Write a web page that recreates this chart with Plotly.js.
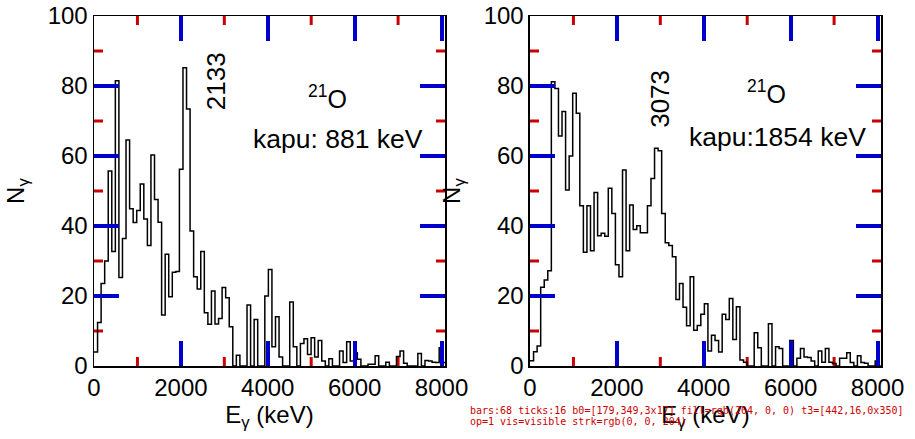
<!DOCTYPE html>
<html><head><meta charset="utf-8">
<script src="https://cdn.plot.ly/plotly-3.0.1.min.js"></script>
<style>html,body{margin:0;padding:0;background:#fff;}#chart{width:915px;height:439px;}#dbg{position:absolute;left:470px;top:405px;width:440px;font:10px monospace;color:#c00;white-space:pre-wrap;}</style>
</head><body><div id="chart"></div><div id="dbg"></div>
<script>
const BIN_KEV = 81.92;
const gate881 = [4,12.4,23.6,30,55.7,32.7,81.5,25.3,36.4,64.6,
  44.9,41,44.4,52,42,34.4,60.3,47.6,41.1,14.6,
  31.9,19.8,26.8,27,56.2,85.2,73.4,38.6,25.5,22,
  32.7,15.2,11.9,21.4,12,13.6,22.4,19.5,11.2,0,
  3.1,0,0,17.4,0,13.3,0,0,20,27.6,
  5.5,14.1,2.6,0,0,18.3,5.5,0,6.4,7.8,
  3.3,8.1,2.6,7.3,1.4,0,2.1,0,0,4.3,
  1,6.9,1.4,3.8,1.9,0,0,0.5,0.5,2.9,
  0,0,1.1,0,0,2.7,4.3,0.8,0,0,
  0,3.6,0,1.6,1.4,1.1,1,5.2,1,0];
const gate1854 = [1.5,4.1,5.7,22.5,24.6,27.2,81.2,79.3,65.7,72.7,
  50.3,60,77.9,72.2,45.8,32.5,45.8,32.9,49.6,37.2,
  37.9,37.1,50.8,43.6,28.9,25.5,56,32.9,46,39,
  40.1,38.1,38.1,45.8,53.6,62.2,61.5,43.6,35.2,34.4,
  31.2,19,23.6,16.8,11.5,25.5,10.2,11.6,14.8,17.8,
  4.3,8.8,7.3,4,14.8,13.3,19.3,7.6,16.9,1.7,
  1.1,0,0,9.5,5.2,0,0,12.1,0,5.5,
  5,0,0,7.3,0,2.2,5,2.6,2.4,1.4,
  0,4.3,1.1,5,1.1,0.7,0,2.2,2.2,3.8,
  1,0,2.9,1,0.8,0,0,1.4,0,0];
const xTickVals = [0,2000,4000,6000,8000];
const xMinorVals = [1000,3000,5000,7000];
const yTickVals = [0,20,40,60,80,100];
const yMinorVals = [10,30,50,70,90];
const peakLabels = ["2133","3073"];
const nucleus = "<sup>21</sup>O";
const gateLabels = ["kapu: 881 keV","kapu:1854 keV"];

const XR = [0,8080], YR = [0,100];
const W = 915, H = 439, M = {l:94,r:34,t:16,b:73};
const XDOM = [[0,0.446],[0.554,1]];
const MAJOR_PX = 17, MINOR_PX = 9;

function stepTrace(vals, xa, ya){
  const xs = vals.map((v,i)=>i*BIN_KEV); xs.push(vals.length*BIN_KEV);
  const ys = vals.slice(); ys.push(vals[vals.length-1]);
  return {x:xs,y:ys,xaxis:xa,yaxis:ya,type:'scatter',mode:'lines',
    line:{shape:'hv',color:'#000',width:1.5},hoverinfo:'skip',showlegend:false};
}
// tick marks as thin bars (filled rectangles) through the axes' own scales
function tickBars(xa, ya, dom){
  const plotW = (W-M.l-M.r)*(dom[1]-dom[0]), plotH = H-M.t-M.b;
  const dy = px => px/plotH*(YR[1]-YR[0]);
  const dx = px => px/plotW*(XR[1]-XR[0]);
  const xt = xTickVals.filter(v=>v>XR[0]&&v<XR[1]).map(v=>[v,MAJOR_PX]).concat(xMinorVals.map(v=>[v,MINOR_PX]));
  const yt = yTickVals.filter(v=>v>YR[0]&&v<YR[1]).map(v=>[v,MAJOR_PX]).concat(yMinorVals.map(v=>[v,MINOR_PX]));
  const common = {xaxis:xa,yaxis:ya,type:'bar',marker:{color:'#c00',line:{width:0}},hoverinfo:'skip',showlegend:false};
  return [
    Object.assign({}, common, {orientation:'v', x:xt.map(t=>t[0]), y:xt.map(t=>dy(t[1])), base:xt.map(()=>YR[0]), width:xt.map(()=>dx(3))}),
    Object.assign({}, common, {orientation:'v', x:xt.map(t=>t[0]), y:xt.map(t=>dy(t[1])), base:xt.map(t=>YR[1]-dy(t[1])), width:xt.map(()=>dx(3))}),
    Object.assign({}, common, {orientation:'h', y:yt.map(t=>t[0]), x:yt.map(t=>dx(t[1])), base:yt.map(()=>XR[0]), width:yt.map(()=>dy(3))}),
    Object.assign({}, common, {orientation:'h', y:yt.map(t=>t[0]), x:yt.map(t=>dx(t[1])), base:yt.map(t=>XR[1]-dx(t[1])), width:yt.map(()=>dy(3))})
  ];
}
const FONT = 'Liberation Sans, Arial, sans-serif';
function xax(dom, anchor){
  return {domain:dom, anchor:anchor, range:XR, tickmode:'array', tickvals:xTickVals, ticktext:xTickVals.map(String),
    ticks:'inside', ticklen:25, tickwidth:4, tickcolor:'#00c', showline:true, linewidth:1.5, linecolor:'#000',
    mirror:'ticks', showgrid:false, zeroline:false,
    tickfont:{family:FONT,size:24,color:'#000'},
    title:{text:'E<sub>γ</sub> (keV)', font:{family:FONT,size:24,color:'#000'}, standoff:2}};
}
function yax(anchor){
  return {anchor:anchor, domain:[0,1], range:YR, tickmode:'array', tickvals:yTickVals, ticktext:yTickVals.map(String),
    ticks:'inside', ticklen:25, tickwidth:4, tickcolor:'#00c', showline:true, linewidth:1.5, linecolor:'#000',
    mirror:'ticks', showgrid:false, zeroline:false,
    tickfont:{family:FONT,size:24,color:'#000'},
    title:{text:'N<sub>γ</sub>', font:{family:FONT,size:24,color:'#000'}, standoff:16}};
}
const data = [stepTrace(gate881,'x','y'), stepTrace(gate1854,'x2','y2')]
  .concat(tickBars('x','y',XDOM[0]), tickBars('x2','y2',XDOM[1]));
const pos = [
  {peak:[0.348,0.814], nuc:[0.664,0.768], gate:[0.694,0.649]},
  {peak:[0.370,0.763], nuc:[0.675,0.783], gate:[0.704,0.654]}];
const ann = [];
[['x','y'],['x2','y2']].forEach((ax,i)=>{
  const p = pos[i];
  const base = {xref:ax[0]+' domain', yref:ax[1]+' domain', showarrow:false, xanchor:'center', yanchor:'middle'};
  ann.push(Object.assign({}, base, {x:p.peak[0], y:p.peak[1], text:peakLabels[i], textangle:-90, font:{family:FONT,size:26,color:'#000'}}));
  ann.push(Object.assign({}, base, {x:p.nuc[0], y:p.nuc[1], text:nucleus, font:{family:FONT,size:25,color:'#000'}}));
  ann.push(Object.assign({}, base, {x:p.gate[0], y:p.gate[1], text:gateLabels[i], font:{family:FONT,size:26.5,color:'#000'}}));
});
const layout = {width:W,height:H,margin:M,paper_bgcolor:'#fff',plot_bgcolor:'#fff',barmode:'overlay',
  xaxis:xax(XDOM[0],'y'), yaxis:yax('x'), xaxis2:xax(XDOM[1],'y2'), yaxis2:yax('x2'),
  annotations:ann, showlegend:false};
Plotly.newPlot('chart',data,layout,{staticPlot:true,displayModeBar:false}).then(()=>{
  const bars = document.querySelectorAll('.bars path');
  const tk = document.querySelectorAll('path.ticks');
  let s = 'bars:'+bars.length+' ticks:'+tk.length;
  if(bars.length){ const r=bars[0].getBoundingClientRect(); s+=' b0=['+Math.round(r.x)+','+Math.round(r.y)+','+Math.round(r.width)+'x'+Math.round(r.height)+'] fill='+bars[0].style.fill; }
  if(tk.length){ const r=tk[3].getBoundingClientRect(); s+=' t3=['+Math.round(r.x)+','+Math.round(r.y)+','+Math.round(r.width)+'x'+Math.round(r.height)+'] op='+getComputedStyle(tk[3]).opacity+' vis='+getComputedStyle(tk[3]).visibility+' strk='+getComputedStyle(tk[3]).stroke; }
  document.getElementById('dbg').textContent = s;
}).catch(e=>{document.getElementById('dbg').textContent='ERR '+e;});
</script></body></html>
